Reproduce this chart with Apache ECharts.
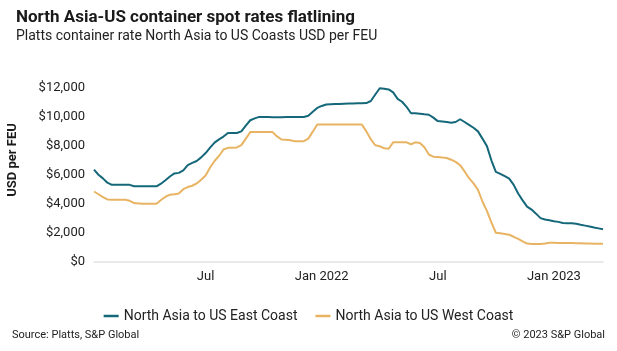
<!DOCTYPE html>
<html>
<head>
<meta charset="utf-8">
<script src="https://cdn.jsdelivr.net/npm/echarts@6/dist/echarts.min.js"></script>
<style>
html,body{margin:0;padding:0;background:#fff;}
#c{width:617px;height:351px;}
</style>
</head>
<body>
<div id="c"></div>
<script>
// weekly observations, first week 2021-01-08
const startDate = '2021-01-08';
const eastCoast = [
 6350,6000,5750,5450,5300,5300,5300,5300,5300,5200,
 5200,5200,5200,5200,5200,5380,5620,5880,6090,6130,
 6300,6670,6820,6950,7200,7500,7870,8220,8450,8640,
 8890,8890,8890,9000,9400,9770,9900,10000,10000,10000,
 9980,9970,9980,9990,10000,10000,10000,10000,10080,10350,
 10620,10760,10860,10880,10890,10900,10910,10920,10930,10940,
 10950,10960,11100,11550,11980,11950,11900,11700,11250,11050,
 10700,10250,10250,10220,10180,10150,9950,9710,9680,9650,
 9600,9650,9840,9650,9450,9250,9000,8500,7980,7000,
 6200,6060,5900,5730,5300,4700,4230,3800,3590,3310,
 3000,2900,2850,2790,2740,2660,2650,2650,2610,2540,
 2480,2420,2350,2290,2230
];
const westCoast = [
 4840,4650,4450,4290,4270,4270,4270,4270,4200,4040,
 4020,4000,4000,4000,4000,4250,4480,4620,4650,4700,
 5000,5150,5240,5400,5650,5950,6500,6950,7300,7750,
 7860,7870,7890,8050,8500,8950,8950,8950,8950,8950,
 8950,8650,8440,8420,8380,8320,8320,8320,8500,8980,
 9470,9470,9470,9470,9470,9470,9470,9470,9470,9470,
 9470,9000,8450,8040,7970,7830,7800,8240,8240,8240,
 8240,8110,8240,8200,7900,7400,7250,7230,7190,7160,
 7040,6890,6660,6230,5760,5400,4950,4150,3500,2700,
 1990,1950,1900,1850,1710,1560,1390,1240,1210,1210,
 1215,1250,1290,1290,1285,1280,1280,1280,1270,1260,
 1250,1240,1230,1220,1220
];
const tickIndex = [25, 51, 77, 103];
const tickLabels = ['Jul', 'Jan 2022', 'Jul', 'Jan 2023'];
const seriesNames = ['North Asia to US East Coast', 'North Asia to US West Coast'];

const categories = [];
(function(){
  const d0 = new Date(startDate + 'T00:00:00Z');
  for (let i = 0; i < eastCoast.length; i++) {
    const d = new Date(d0.getTime() + i * 7 * 86400000);
    categories.push(d.toISOString().slice(0, 10));
  }
})();

const FONT = 'Roboto';
const chart = echarts.init(document.getElementById('c'), null, {renderer: 'canvas'});
chart.setOption({
  backgroundColor: '#fff',
  animation: false,
  textStyle: {fontFamily: FONT},
  title: {
    text: 'North Asia-US container spot rates flatlining',
    subtext: 'Platts container rate North Asia to US Coasts USD per FEU',
    left: 11, top: 4, itemGap: 3,
    textStyle: {fontFamily: FONT, fontSize: 17, fontWeight: 'bold', color: '#1a1a1a'},
    subtextStyle: {fontFamily: FONT, fontSize: 14, color: '#222'}
  },
  grid: {left: 94, right: 14, top: 88, bottom: 89.5, containLabel: false},
  legend: {
    data: seriesNames, left: 'center', top: 304,
    icon: 'rect', itemWidth: 15, itemHeight: 2.5, itemGap: 18,
    textStyle: {fontFamily: FONT, fontSize: 14, color: '#222'}
  },
  xAxis: {
    type: 'category', data: categories, boundaryGap: false,
    axisLine: {lineStyle: {color: '#e2e2e2', width: 1.5}},
    axisTick: {show: false},
    axisLabel: {
      interval: (idx) => tickIndex.includes(idx),
      formatter: (v, idx) => { const k = tickIndex.indexOf(idx); return k >= 0 ? tickLabels[k] : ''; },
      fontFamily: FONT, fontSize: 13, color: '#222', margin: 9
    },
    splitLine: {show: false}
  },
  yAxis: {
    type: 'value', min: 0, max: 12000, interval: 2000,
    axisLine: {show: false}, axisTick: {show: false},
    splitLine: {show: false},
    axisLabel: {
      formatter: (v) => '$' + v.toLocaleString('en-US'),
      fontFamily: FONT, fontSize: 13, color: '#222', margin: 9
    }
  },
  graphic: [
    {type: 'text', left: 12, top: 330, style: {text: 'Source: Platts, S&P Global', fontFamily: FONT, fontSize: 11, fill: '#222'}},
    {type: 'text', right: 12, top: 330, style: {text: '© 2023 S&P Global', fontFamily: FONT, fontSize: 11, fill: '#222'}},
    {type: 'text', x: 13, y: 160, rotation: Math.PI / 2, style: {text: 'USD per FEU', fontFamily: FONT, fontSize: 13, fontWeight: 'bold', fill: '#1a1a1a', align: 'center', verticalAlign: 'middle'}}
  ],
  series: [
    {name: seriesNames[0], type: 'line', data: eastCoast, showSymbol: false, symbol: 'none',
     lineStyle: {color: '#15687a', width: 2}, itemStyle: {color: '#15687a'}},
    {name: seriesNames[1], type: 'line', data: westCoast, showSymbol: false, symbol: 'none',
     lineStyle: {color: '#e8b463', width: 2}, itemStyle: {color: '#e8b463'}}
  ]
});
</script>
</body>
</html>
